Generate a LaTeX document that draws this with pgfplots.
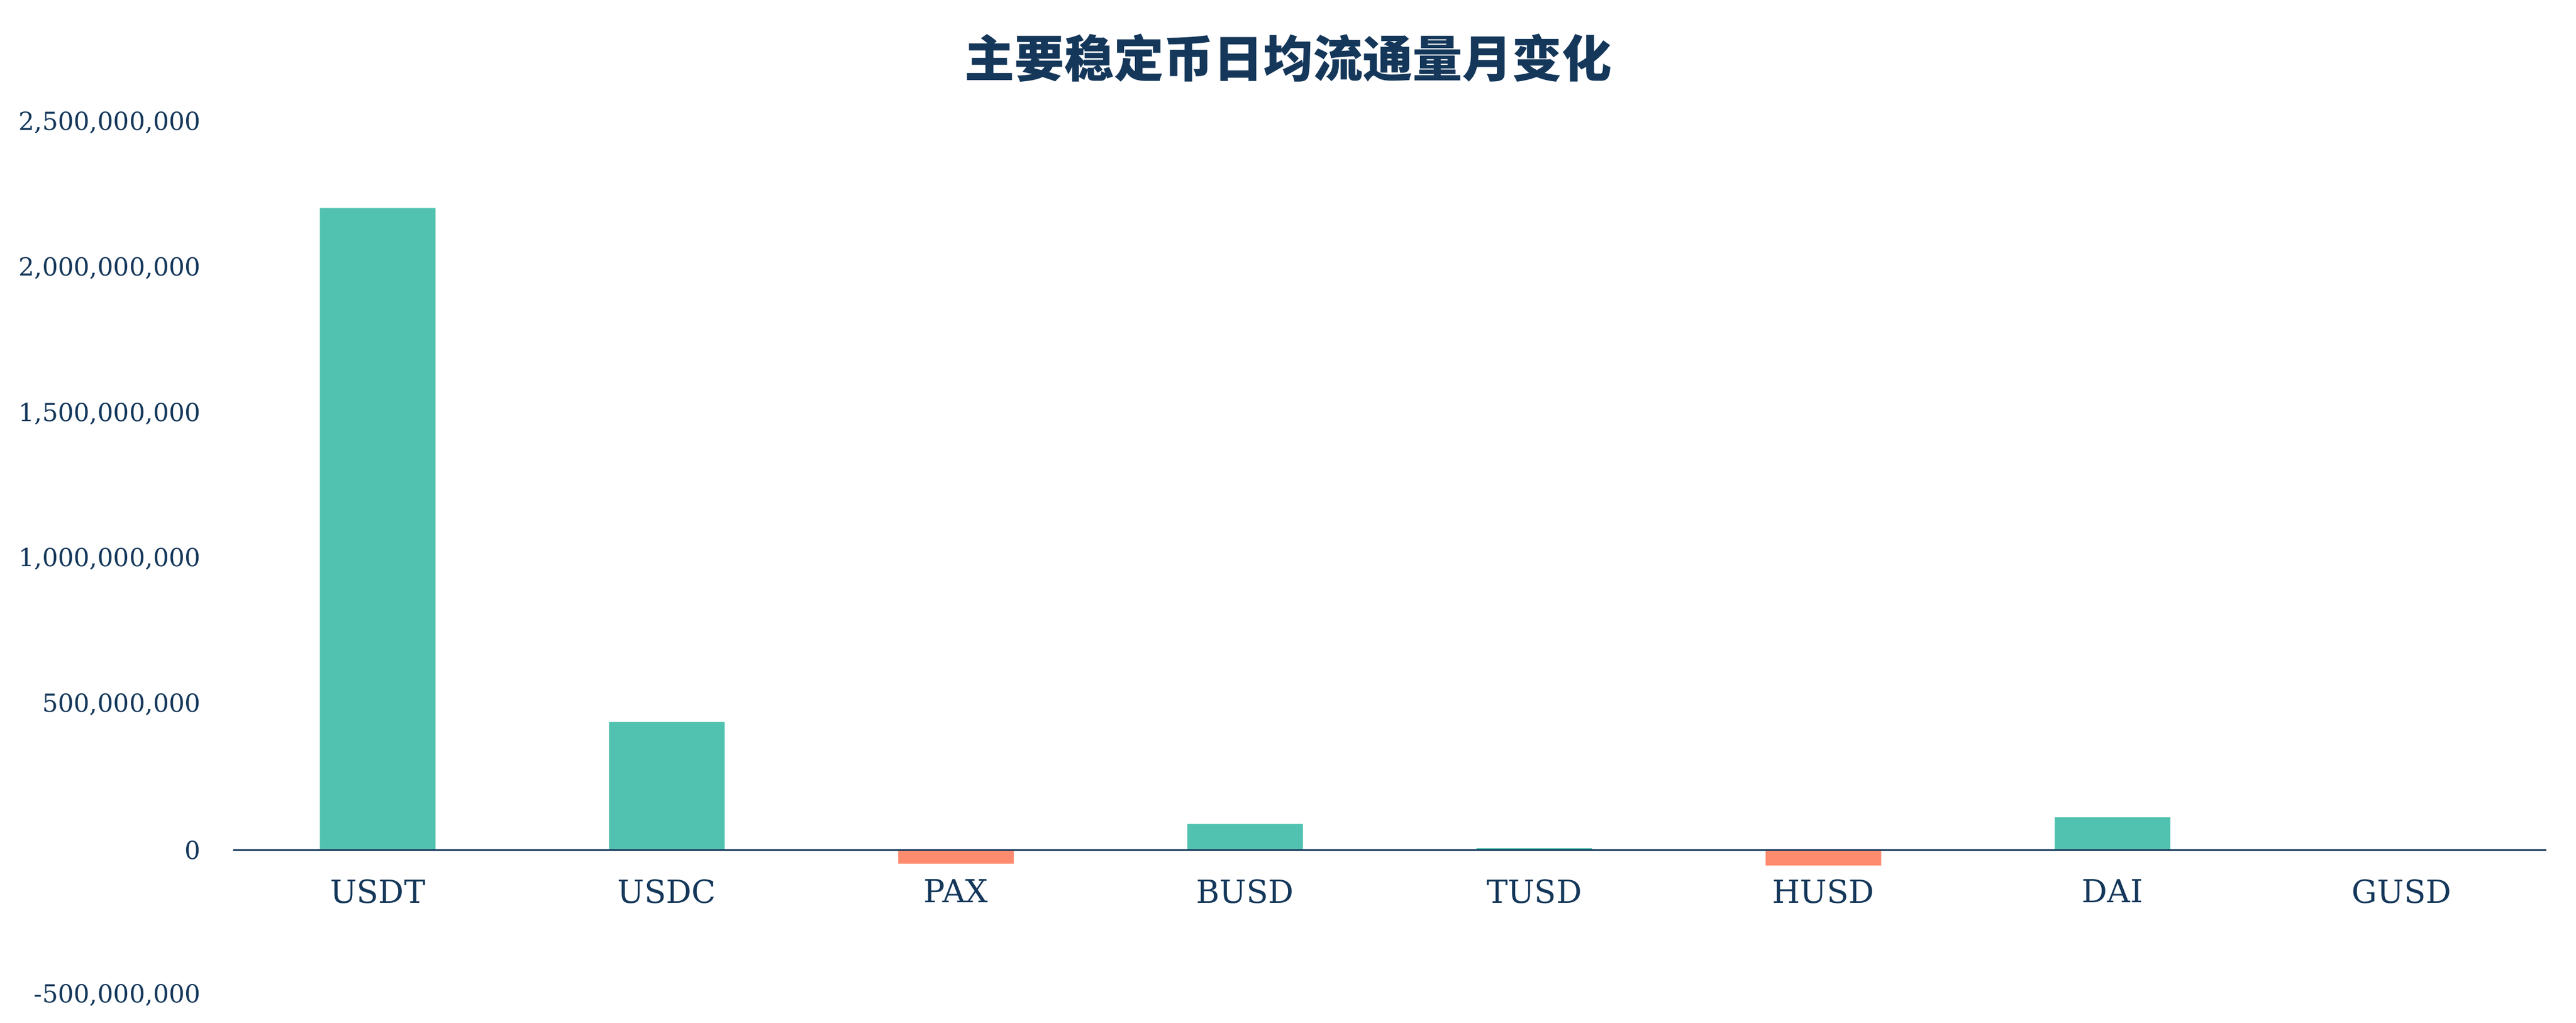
\documentclass[border=0pt]{standalone}
\usepackage{pgfplots}
\pgfplotsset{compat=1.18}
\usepackage{fontspec}
\setmainfont{DejaVu Serif}
\newfontfamily\cjk{Noto Sans CJK SC}

\definecolor{navy}{HTML}{14375A}
\definecolor{tealbar}{HTML}{52C2B0}
\definecolor{salmon}{HTML}{FF8B6E}

\begin{document}
\begin{tikzpicture}
\useasboundingbox (-107.75pt,-12.75pt) rectangle (1082.75pt,459.75pt);
\begin{axis}[
    at={(0,0)}, anchor=south west,
    scale only axis,
    width=1069pt, height=403pt,
    xmin=-0.5, xmax=7.5,
    ymin=-5e8, ymax=2.5e9,
    axis x line=middle,
    axis y line=left,
    x axis line style={draw=navy, line width=0.7pt, -},
    y axis line style={draw=none},
    hide obscured x ticks=false,
    hide obscured y ticks=false,
    axis on top,
    major tick length=0pt,
    tick style={draw=none},
    scaled y ticks=false,
    xtick={0,1,2,3,4,5,6,7},
    xticklabels={USDT,USDC,PAX,BUSD,TUSD,HUSD,DAI,GUSD},
    ytick={-5e8,0,5e8,1e9,1.5e9,2e9,2.5e9},
    yticklabels={{-500,000,000},{0},{500,000,000},{1,000,000,000},{1,500,000,000},{2,000,000,000},{2,500,000,000}},
    xticklabel style={font=\fontsize{14.7pt}{17pt}\selectfont, text=navy, yshift=-10pt},
    yticklabel style={font=\fontsize{11.5pt}{13pt}\selectfont, text=navy, xshift=-11.5pt},
    ybar, bar width=0.4, bar shift=0pt,
]
% positive changes
\addplot[fill=tealbar, draw=none] coordinates {
    (0,2207e6) (1,440e6) (3,89e6) (4,6e6) (6,112e6) (7,0.5e6)
};
% negative changes
\addplot[fill=salmon, draw=none] coordinates {
    (2,-47e6) (5,-53e6)
};
\end{axis}
\node[font=\cjk\bfseries\fontsize{23pt}{28pt}\selectfont, text=navy] at (487.5pt,433pt) {主要稳定币日均流通量月变化};
\end{tikzpicture}
\end{document}
